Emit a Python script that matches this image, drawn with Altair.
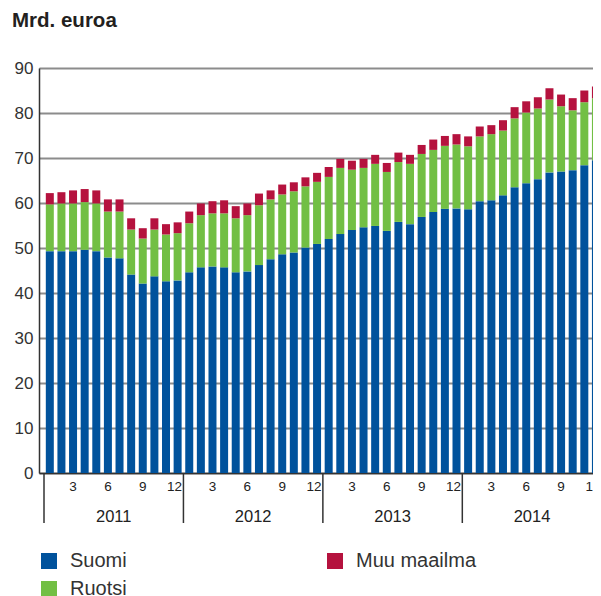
import altair as alt
import pandas as pd

# Month index 1..48 (Jan 2011 .. Dec 2014); cumulative tops
suomi = [49.3, 49.3, 49.3, 49.6, 49.3, 47.9, 47.7, 44.1, 42.1, 43.7, 42.6, 42.8,
         44.6, 45.7, 45.9, 45.7, 44.6, 44.8, 46.2, 47.5, 48.6, 49.0, 50.1, 50.9,
         52.0, 53.1, 54.0, 54.6, 54.9, 53.8, 55.8, 55.3, 56.9, 58.0, 58.7, 58.8,
         58.6, 60.4, 60.6, 61.7, 63.5, 64.4, 65.3, 66.8, 67.0, 67.3, 68.4, 69.5]
ruotsi_top = [59.7, 59.9, 59.9, 60.2, 59.9, 58.1, 58.1, 54.1, 52.1, 54.1, 53.0, 53.3,
              55.5, 57.3, 57.7, 57.7, 56.6, 57.3, 59.5, 60.8, 61.9, 62.6, 63.7, 64.7,
              65.8, 67.8, 67.4, 67.8, 68.7, 66.9, 69.1, 68.7, 70.9, 71.8, 72.7, 73.0,
              72.6, 74.8, 75.3, 76.1, 78.8, 80.1, 81.0, 83.0, 81.5, 80.6, 82.4, 83.3]
total_top = [62.2, 62.4, 62.8, 63.1, 62.8, 60.8, 60.8, 56.6, 54.4, 56.6, 55.3, 55.7,
             58.1, 59.9, 60.4, 60.6, 59.3, 59.9, 62.1, 62.8, 64.1, 64.6, 65.7, 66.7,
             68.0, 69.8, 69.4, 69.8, 70.7, 68.9, 71.2, 70.7, 72.9, 74.1, 74.9, 75.3,
             74.8, 77.0, 77.3, 78.4, 81.3, 82.6, 83.5, 85.5, 84.1, 83.3, 85.0, 85.9]
years = [2011, 2012, 2013, 2014]
series = ["Suomi", "Ruotsi", "Muu maailma"]
colors = {"Suomi": "#00529c", "Ruotsi": "#72bf44", "Muu maailma": "#b5123e"}
month_ticks = [3, 6, 9]
month_last = 12

rows = []
for i in range(len(suomi)):
    vals = [suomi[i], ruotsi_top[i] - suomi[i], total_top[i] - ruotsi_top[i]]
    for k, s in enumerate(series):
        rows.append({"pos": i + 0.5, "serie": s, "ord": k, "value": round(vals[k], 2)})
df = pd.DataFrame(rows)

ydf = pd.DataFrame({"year": [str(y) for y in years],
                    "start": [12 * k for k in range(len(years))],
                    "mid": [12 * k + 6 for k in range(len(years))]})

mdf = pd.DataFrame({"pos": [12 * k + m - 0.5 for k in range(len(years)) for m in month_ticks],
                    "label": [str(m) for k in range(len(years)) for m in month_ticks]})
mdf12 = pd.DataFrame({"pos": [12 * k + month_last - 0.5 for k in range(len(years))],
                      "label": [str(month_last)] * len(years)})

FONT = "Liberation Sans"
PLOT_W = 554
X_MAX = PLOT_W / (568 / 48)   # visible part of the 48-month axis
xscale = alt.Scale(domain=[0, X_MAX], nice=False, zero=False)

bars = alt.Chart(df).mark_bar(size=8, clip=True).encode(
    x=alt.X("pos:Q", scale=xscale,
            axis=alt.Axis(labels=False, ticks=False, tickSize=0, grid=False,
                          domainColor="#333333", domainWidth=1.5, title=None)),
    y=alt.Y("value:Q", stack="zero", scale=alt.Scale(domain=[0, 90], nice=False),
            axis=alt.Axis(values=list(range(0, 91, 10)), grid=True, gridColor="#8c8c8c",
                          gridWidth=2, ticks=False, tickSize=0, domain=True,
                          domainColor="#333333", domainWidth=1.5, labelFontSize=17,
                          labelColor="#333333", labelPadding=6, title=None, labelFont=FONT)),
    color=alt.Color("serie:N",
                    scale=alt.Scale(domain=series, range=[colors[s] for s in series]),
                    legend=alt.Legend(orient="none", legendX=0, legendY=483, columns=2,
                                      direction="vertical",
                                      columnPadding=198, rowPadding=8, symbolType="square",
                                      symbolSize=256, symbolStrokeWidth=0, labelFontSize=20,
                                      labelColor="#333333", labelOffset=11, title=None,
                                      labelFont=FONT)),
    order=alt.Order("ord:Q", sort="ascending"),
)

month_text = alt.Chart(mdf).mark_text(fontSize=13.5, baseline="middle", color="#222222",
                                      font=FONT).encode(
    x=alt.X("pos:Q"),
    y=alt.value(419),
    text="label:N",
)

month12_text = alt.Chart(mdf12).mark_text(fontSize=13.5, baseline="middle", color="#222222",
                                          font=FONT, dx=-3).encode(
    x=alt.X("pos:Q"),
    y=alt.value(419),
    text="label:N",
)

year_rules = alt.Chart(ydf).mark_rule(color="#333333", strokeWidth=1.5).encode(
    x=alt.X("start:Q"),
    y=alt.value(405),
    y2=alt.value(455),
)

year_text = alt.Chart(ydf).mark_text(fontSize=16.5, baseline="middle", color="#222222",
                                     font=FONT).encode(
    x=alt.X("mid:Q"),
    y=alt.value(449),
    text="year:N",
)

chart = alt.layer(bars, month_text, month12_text, year_rules, year_text).properties(
    width=PLOT_W,
    height=405,
    title=alt.TitleParams("Mrd. euroa", anchor="start", frame="group", dx=-27,
                          fontSize=20.5, fontWeight="bold", font=FONT, color="#231f20",
                          offset=28),
    autosize=alt.AutoSizeParams(type="none"),
    padding={"left": 31, "top": 60, "right": 0, "bottom": 123},
).configure_view(stroke=None).configure(font=FONT)

chart.save("out.html", embed_options={"renderer": "svg", "actions": False})
